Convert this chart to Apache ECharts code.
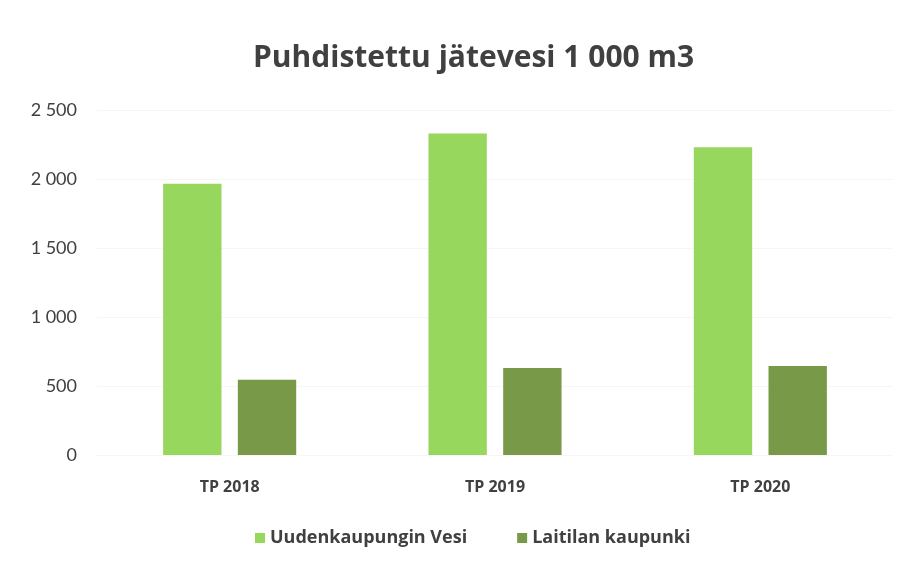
<!DOCTYPE html>
<html>
<head>
<meta charset="utf-8">
<script src="https://cdn.jsdelivr.net/npm/echarts@6/dist/echarts.min.js"></script>
<style>
  html, body { margin: 0; padding: 0; background: #fff; }
  #chart { width: 915px; height: 565px; }
</style>
</head>
<body>
<div id="chart"></div>
<script>
const categories = ['TP 2018', 'TP 2019', 'TP 2020'];
const uudenkaupunki = [1965, 2330, 2230];
const laitila = [545, 630, 645];
const yTicks = [0, 500, 1000, 1500, 2000, 2500];

const chart = echarts.init(document.getElementById('chart'));
const bold = '"Open Sans", sans-serif';
const plain = 'Lato, "Open Sans", sans-serif';

chart.setOption({
  backgroundColor: '#fff',
  animation: false,
  title: {
    text: 'Puhdistettu jätevesi 1 000 m3',
    left: 248, top: 38,
    textStyle: { color: '#404040', fontSize: 30, fontWeight: 'bold', fontFamily: bold },
  },
  legend: {
    bottom: 13, left: 250, itemWidth: 10, itemHeight: 10, itemGap: 50,
    icon: 'rect',
    textStyle: { color: '#404040', fontSize: 18, fontWeight: 'bold', fontFamily: bold },
    data: ['Uudenkaupungin Vesi', 'Laitilan kaupunki'],
  },
  grid: { left: 97, right: 22, top: 110, bottom: 110 },
  xAxis: {
    type: 'category', data: categories,
    axisLine: { show: false }, axisTick: { show: false },
    axisLabel: { color: '#404040', fontSize: 16, fontWeight: 'bold', fontFamily: bold, margin: 24 },
  },
  yAxis: {
    type: 'value', min: 0, max: 2500, interval: 500,
    axisLine: { show: false }, axisTick: { show: false },
    splitLine: { lineStyle: { color: '#f6f6f6' } },
    axisLabel: {
      color: '#404040', fontSize: 18, fontFamily: plain, margin: 20,
      formatter: v => yTicks.includes(v) ? String(v).replace(/\B(?=(\d{3})+(?!\d))/g, ' ') : '',
    },
  },
  series: [
    {
      name: 'Uudenkaupungin Vesi', type: 'bar', data: uudenkaupunki,
      barWidth: '22%', barGap: '28%',
      itemStyle: { color: '#97d75e' },
    },
    {
      name: 'Laitilan kaupunki', type: 'bar', data: laitila,
      barWidth: '22%',
      itemStyle: { color: '#789a48' },
    },
  ],
});
</script>
</body>
</html>
